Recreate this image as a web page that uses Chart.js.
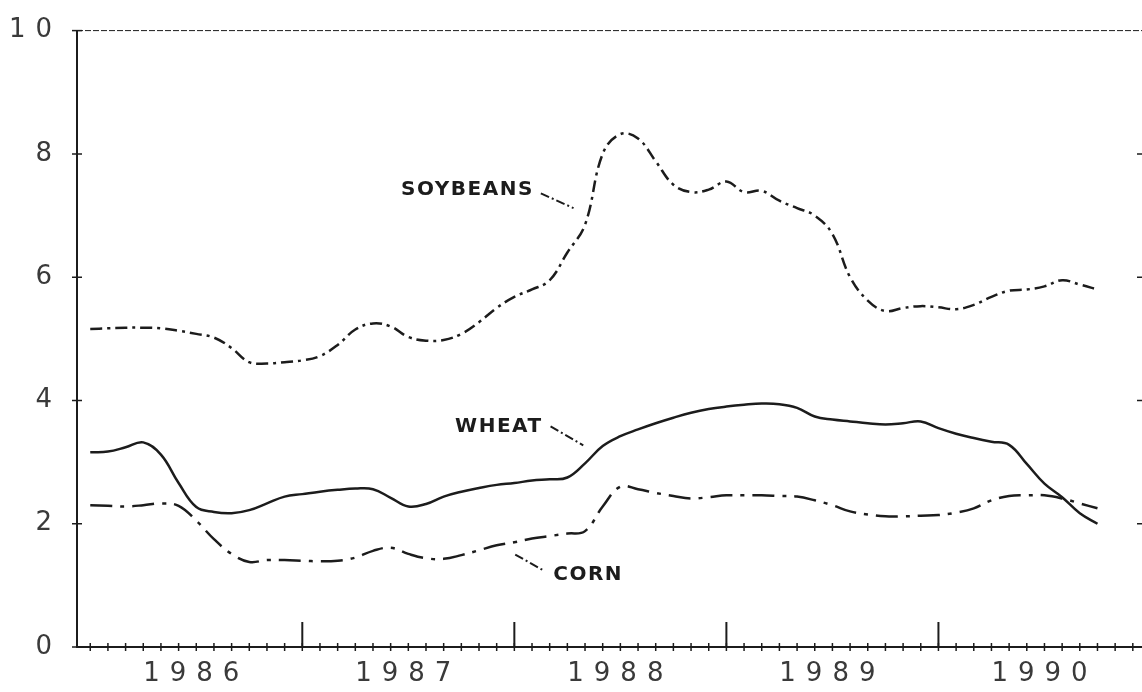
<!DOCTYPE html>
<html>
<head>
<meta charset="utf-8">
<script src="https://cdn.jsdelivr.net/npm/chart.js@4.4.1/dist/chart.umd.min.js"></script>
<style>
  html, body { margin: 0; padding: 0; background: #fff; }
  #wrap { width: 1142px; height: 692px; }
</style>
</head>
<body>
<div id="wrap"><canvas id="prices"></canvas></div>
<script>
// monthly values, Jan 1986 .. Oct 1990 (index 0 = Jan 1986)
const years = ['1986', '1987', '1988', '1989', '1990'];
const yTicks = [0, 2, 4, 6, 8, 10];

const soybeans = [5.16, 5.17, 5.18, 5.18, 5.17, 5.13, 5.08, 5.02, 4.85, 4.62,
  4.6, 4.62, 4.65, 4.72, 4.9, 5.15, 5.25, 5.2, 5.03, 4.97,
  4.98, 5.08, 5.27, 5.5, 5.68, 5.8, 5.95, 6.4, 6.85, 8.0,
  8.32, 8.25, 7.88, 7.5, 7.38, 7.42, 7.55, 7.38, 7.4, 7.24,
  7.12, 7.0, 6.7, 6.0, 5.62, 5.45, 5.5, 5.53, 5.51, 5.48,
  5.55, 5.68, 5.78, 5.8, 5.85, 5.95, 5.88, 5.8];

const wheat = [3.16, 3.17, 3.24, 3.32, 3.12, 2.66, 2.27, 2.19, 2.17, 2.22,
  2.33, 2.44, 2.48, 2.52, 2.55, 2.57, 2.56, 2.42, 2.28, 2.32,
  2.44, 2.52, 2.58, 2.63, 2.66, 2.7, 2.72, 2.75, 2.98, 3.26,
  3.42, 3.53, 3.63, 3.72, 3.8, 3.86, 3.9, 3.93, 3.95, 3.94,
  3.88, 3.74, 3.69, 3.66, 3.63, 3.61, 3.63, 3.66, 3.55, 3.46,
  3.39, 3.33, 3.28, 2.97, 2.65, 2.43, 2.17, 2.0];

const corn = [2.3, 2.29, 2.28, 2.3, 2.33, 2.29, 2.05, 1.75, 1.51, 1.38,
  1.41, 1.41, 1.4, 1.39, 1.4, 1.45, 1.56, 1.61, 1.51, 1.44,
  1.43, 1.49, 1.57, 1.65, 1.7, 1.76, 1.8, 1.84, 1.88, 2.28,
  2.6, 2.56, 2.5, 2.45, 2.41, 2.43, 2.46, 2.46, 2.46, 2.45,
  2.44, 2.38, 2.3, 2.2, 2.15, 2.12, 2.12, 2.13, 2.14, 2.18,
  2.25, 2.38, 2.45, 2.46, 2.46, 2.41, 2.33, 2.25];

// series names written on the plot, placed in data units (month, value)
const seriesLabels = [
  { text: 'SOYBEANS', at: [25.1, 7.41], align: 'right', leader: [[25.5, 7.36], [27.35, 7.12]] },
  { text: 'WHEAT', at: [25.6, 3.58], align: 'right', leader: [[26.05, 3.58], [27.9, 3.27]] },
  { text: 'CORN', at: [26.2, 1.17], align: 'left', leader: [[24.05, 1.5], [25.6, 1.25]] }
];

const ink = '#1c1c1c';
const toPoints = arr => arr.map((v, i) => ({ x: i, y: v }));

const axisMarks = {
  id: 'axisMarks',
  beforeDraw(chart) {
    chart.ctx.letterSpacing = '10px';
  },
  afterDatasetsDraw(chart) {
    const { ctx, scales: { x, y } } = chart;
    ctx.save();
    ctx.fillStyle = ink;
    ctx.strokeStyle = ink;
    ctx.font = 'bold 20px "DejaVu Sans"';
    ctx.letterSpacing = '1.5px';
    ctx.textBaseline = 'middle';
    seriesLabels.forEach(l => {
      ctx.textAlign = l.align;
      ctx.fillText(l.text, x.getPixelForValue(l.at[0]), y.getPixelForValue(l.at[1]));
      ctx.lineWidth = 2;
      ctx.setLineDash([9, 3, 2, 3]);
      ctx.beginPath();
      ctx.moveTo(x.getPixelForValue(l.leader[0][0]), y.getPixelForValue(l.leader[0][1]));
      ctx.lineTo(x.getPixelForValue(l.leader[1][0]), y.getPixelForValue(l.leader[1][1]));
      ctx.stroke();
    });
    ctx.restore();
  },
  afterDraw(chart) {
    const { ctx, chartArea: a, scales: { x, y } } = chart;
    ctx.save();
    ctx.letterSpacing = '0px';
    ctx.strokeStyle = ink;
    // top frame
    ctx.lineWidth = 1;
    ctx.setLineDash([6, 2]);
    ctx.beginPath();
    ctx.moveTo(a.left, a.top);
    ctx.lineTo(a.right, a.top);
    ctx.stroke();
    ctx.setLineDash([]);
    // monthly crosses on the time axis
    ctx.lineWidth = 1.5;
    for (let m = 0; m < 60; m++) {
      const px = x.getPixelForValue(m);
      ctx.beginPath();
      ctx.moveTo(px, a.bottom - 4);
      ctx.lineTo(px, a.bottom + 4);
      ctx.stroke();
    }
    // year boundaries
    ctx.lineWidth = 2;
    for (let m = 12; m < 60; m += 12) {
      const px = x.getPixelForValue(m);
      ctx.beginPath();
      ctx.moveTo(px, a.bottom);
      ctx.lineTo(px, a.bottom - 25);
      ctx.stroke();
    }
    // value ticks, left axis and the edge of the right axis
    ctx.lineWidth = 1.5;
    yTicks.forEach(v => {
      const py = y.getPixelForValue(v);
      ctx.beginPath();
      ctx.moveTo(a.left - 5, py);
      ctx.lineTo(a.left + 5, py);
      if (v > 0 && v < 10) {
        ctx.moveTo(a.right - 5, py);
        ctx.lineTo(a.right, py);
      }
      ctx.stroke();
    });
    ctx.restore();
  }
};

new Chart(document.getElementById('prices'), {
  type: 'line',
  data: {
    datasets: [
      {
        label: 'Soybeans',
        data: toPoints(soybeans),
        borderColor: ink,
        borderWidth: 2.5,
        borderDash: [12, 5, 3, 5],
        pointRadius: 0,
        tension: 0.4
      },
      {
        label: 'Wheat',
        data: toPoints(wheat),
        borderColor: ink,
        borderWidth: 2.5,
        pointRadius: 0,
        tension: 0.4
      },
      {
        label: 'Corn',
        data: toPoints(corn),
        borderColor: ink,
        borderWidth: 2.5,
        borderDash: [22, 8, 4, 8],
        pointRadius: 0,
        tension: 0.4
      }
    ]
  },
  options: {
    responsive: true,
    maintainAspectRatio: false,
    animation: false,
    layout: { padding: { top: 20, right: 0, bottom: 0, left: 0 } },
    plugins: {
      legend: { display: false },
      tooltip: { enabled: false }
    },
    scales: {
      x: {
        type: 'linear',
        min: -0.75,
        max: 59.52,
        grid: { display: false, drawTicks: false },
        border: { display: true, color: ink, width: 2 },
        afterFit: s => { s.height = 45; },
        afterBuildTicks: s => { s.ticks = years.map((yr, i) => ({ value: i * 12 + 6 })); },
        ticks: {
          autoSkip: false,
          maxRotation: 0,
          padding: 12,
          color: '#3a3a3a',
          font: { family: '"DejaVu Sans"', size: 26 },
          callback: (v, i) => years[i]
        }
      },
      y: {
        min: 0,
        max: 10,
        grid: { display: false, drawTicks: false },
        border: { display: true, color: ink, width: 2 },
        afterFit: s => { s.width = 77; },
        afterBuildTicks: s => { s.ticks = yTicks.map(v => ({ value: v })); },
        ticks: {
          padding: 15,
          color: '#3a3a3a',
          font: { family: '"DejaVu Sans"', size: 26 }
        }
      }
    }
  },
  plugins: [axisMarks]
});
</script>
</body>
</html>
